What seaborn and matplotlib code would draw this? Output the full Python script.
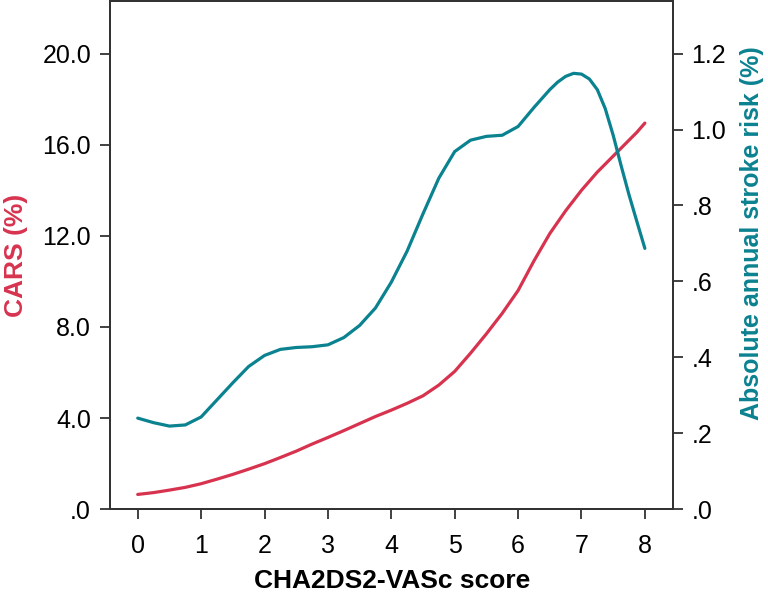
import matplotlib
matplotlib.use("Agg")
import matplotlib.pyplot as plt
import seaborn as sns
import pandas as pd

score = [0.0, 0.25, 0.5, 0.75, 1.0, 1.25, 1.5, 1.75, 2.0, 2.25, 2.5, 2.75, 3.0,
         3.25, 3.5, 3.75, 4.0, 4.25, 4.5, 4.75, 5.0, 5.25, 5.5, 5.75, 6.0,
         6.25, 6.5, 6.625, 6.75, 6.875, 7.0, 7.125, 7.25, 7.375, 7.5, 7.625, 7.75, 7.875, 8.0]
cars = [0.65, 0.73, 0.84, 0.96, 1.12, 1.32, 1.53, 1.76, 2.00, 2.27, 2.55, 2.86, 3.15,
        3.45, 3.76, 4.07, 4.35, 4.65, 4.98, 5.45, 6.05, 6.85, 7.70, 8.60, 9.60,
        10.9, 12.1, 12.6, 13.1, 13.55, 14.0, 14.4, 14.8, 15.15, 15.5, 15.85, 16.2, 16.55, 16.95]
stroke = [0.240, 0.228, 0.219, 0.222, 0.243, 0.288, 0.333, 0.376, 0.405, 0.421, 0.426, 0.428, 0.433,
          0.452, 0.484, 0.530, 0.598, 0.680, 0.778, 0.872, 0.942, 0.972, 0.982, 0.985, 1.008,
          1.058, 1.105, 1.125, 1.140, 1.148, 1.146, 1.133, 1.105, 1.055, 0.985, 0.905, 0.828, 0.757, 0.687]
x_ticks = [0, 1, 2, 3, 4, 5, 6, 7, 8]
left_ticks = [0, 4, 8, 12, 16, 20]
left_labels = [".0", "4.0", "8.0", "12.0", "16.0", "20.0"]
right_ticks = [0, 0.2, 0.4, 0.6, 0.8, 1.0, 1.2]
right_labels = [".0", ".2", ".4", ".6", ".8", "1.0", "1.2"]

RED = "#d7334f"
TEAL = "#0b8290"

sns.set_style("ticks")
plt.rcParams['font.family'] = ['Liberation Sans', 'DejaVu Sans']
plt.rcParams['text.color'] = 'black'
plt.rcParams['axes.labelcolor'] = 'black'

df = pd.DataFrame({"score": score, "cars": cars, "stroke": stroke})

fig = plt.figure(figsize=(7.68, 5.97), dpi=100)
ax = fig.add_axes([0.143, 0.147, 0.733, 0.851])
ax2 = ax.twinx()

sns.lineplot(data=df, x="score", y="cars", ax=ax, color=RED, linewidth=2.3)
sns.lineplot(data=df, x="score", y="stroke", ax=ax2, color=TEAL, linewidth=2.3)

ax.set_xlim(-0.44, 8.44)
ax.set_ylim(0, 22.3)
ax2.set_ylim(0, 1.338)

ax.set_xticks(x_ticks)
ax.set_xticklabels([str(v) for v in x_ticks])
ax.set_yticks(left_ticks)
ax.set_yticklabels(left_labels)
ax2.set_yticks(right_ticks)
ax2.set_yticklabels(right_labels)

for a in (ax, ax2):
    for s in a.spines.values():
        s.set_visible(True)
        s.set_linewidth(1.4)
        s.set_color("#333333")
    a.tick_params(axis="both", direction="out", length=7.5, width=1.3, color="#333333",
                  labelsize=18, labelcolor="black", pad=6)
ax.tick_params(axis="x", pad=10)

ax.set_xlabel("CHA2DS2-VASc score", fontsize=19, fontweight="bold", va="center", color="black")
ax.set_ylabel("CARS (%)", fontsize=19, fontweight="bold", color=RED, va="center")
ax2.set_ylabel("Absolute annual stroke risk (%)", fontsize=18, fontweight="bold",
               color=TEAL, va="center")
ax.xaxis.set_label_coords(0.502, -0.142)
ax.yaxis.set_label_coords(-0.167, 0.5)
ax2.yaxis.set_label_coords(1.140, 0.543)

fig.savefig("out.png", dpi=100)
